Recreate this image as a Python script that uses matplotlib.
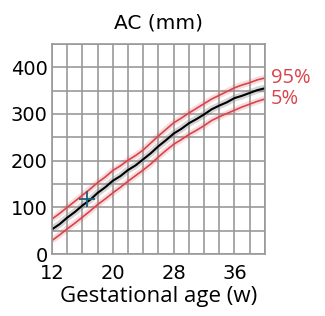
import numpy as np
import matplotlib.pyplot as plt

# gestational age (weeks) and AC centiles (mm)
weeks = [12, 13, 14, 15, 16, 17, 18, 19, 20, 21, 22, 23, 24, 25, 26,
         27, 28, 29, 30, 31, 32, 33, 34, 35, 36, 37, 38, 39, 40]
p50 = [53, 64, 78, 90, 104, 116, 131, 143, 157, 167, 180, 190, 203, 216, 231,
       244, 258, 268, 280, 289, 299, 310, 318, 325, 334, 339, 345, 351, 355]
p95 = [75, 87, 100, 113, 126, 139, 153, 165, 179, 189, 201, 211, 223, 238, 253,
       267, 281, 291, 302, 312, 322, 332, 340, 348, 356, 362, 367, 373, 377]
p5 = [29, 41, 54, 66, 79, 92, 106, 118, 131, 143, 156, 168, 180, 193, 208,
      222, 235, 245, 256, 265, 275, 286, 294, 301, 308, 315, 321, 327, 332]

meas_week = [16.6]
meas_ac = [117]

red = '#d9434a'

fig = plt.figure(figsize=(3.25, 3.16), dpi=100)
ax = fig.add_axes([0.16, 0.196, 0.655, 0.665])

# soft halo under each line
ax.plot(weeks, p95, color=red, lw=4.5, alpha=0.18, solid_capstyle='butt')
ax.plot(weeks, p5, color=red, lw=4.5, alpha=0.18, solid_capstyle='butt')
ax.plot(weeks, p50, color='#888888', lw=5, alpha=0.35, solid_capstyle='butt')
ax.plot(weeks, p95, color=red, lw=1.2)
ax.plot(weeks, p5, color=red, lw=1.2)
ax.plot(weeks, p50, color='black', lw=1.5)

ax.plot(meas_week, meas_ac, marker='+', color='#1f5f7a', ms=11, mew=1.3, ls='none')

ax.set_xlim(12, 40)
ax.set_ylim(0, 450)
ax.set_xticks(np.arange(12, 41, 2), minor=True)
ax.set_xticks([12, 20, 28, 36])
ax.set_yticks(np.arange(0, 451, 50), minor=True)
ax.set_yticks([0, 100, 200, 300, 400])
ax.grid(True, which='both', color='#999999', lw=1.2)
ax.set_axisbelow(True)
ax.tick_params(which='both', length=0, labelsize=14)
ax.tick_params(axis='x', pad=7)
ax.tick_params(axis='y', pad=3)
for s in ax.spines.values():
    s.set_color('#999999')
    s.set_linewidth(1.2)

ax.text(40.8, 377, '95%', color=red, fontsize=14.5, va='center', family='Open Sans')
ax.text(40.8, 332, '5%', color=red, fontsize=14.5, va='center', family='Open Sans')

ax.set_title('AC (mm)', fontsize=14.5, pad=11)
ax.set_xlabel('Gestational age (w)', fontsize=16, labelpad=2, family='Open Sans')

fig.savefig('out.png', dpi=100)
